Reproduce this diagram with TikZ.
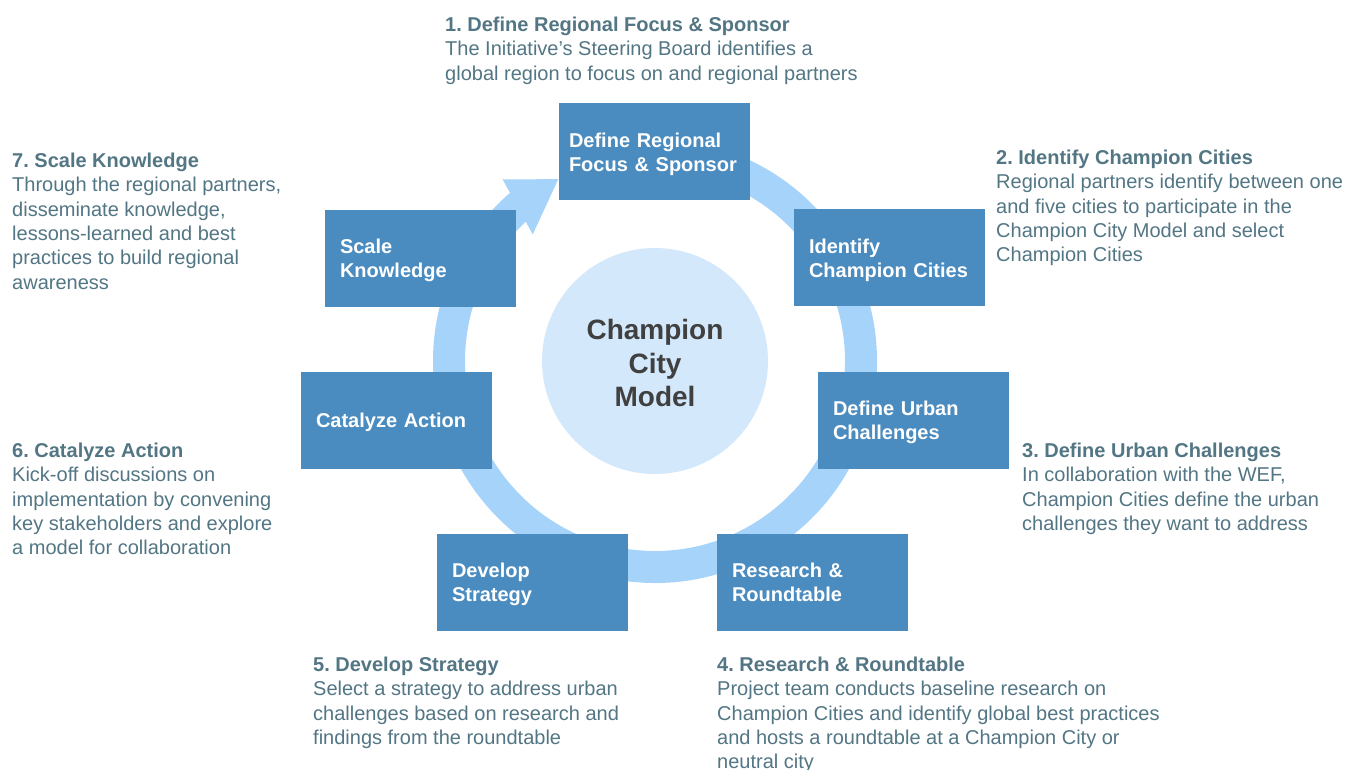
\documentclass[tikz,border=0pt]{standalone}
\usepackage{fontspec}
\setmainfont{Liberation Sans}
\frenchspacing
\definecolor{boxblue}{HTML}{4B8CC0}
\definecolor{ringblue}{HTML}{A6D3FA}
\definecolor{hubfill}{HTML}{D4E8FC}
\definecolor{hubtext}{HTML}{404040}
\definecolor{notetext}{HTML}{537684}
\newcommand\mynohyph{\hyphenpenalty=10000 \exhyphenpenalty=10000 }
\begin{document}
\begin{tikzpicture}[x=1pt,y=-1pt,
  stepbox/.style={rectangle, fill=boxblue, text=white, minimum width=191pt, minimum height=97pt,
    inner xsep=15pt, inner ysep=0pt, text width=161pt, align=left,
    font=\fontsize{20}{23.7}\selectfont\bfseries,
    execute at begin node={\mynohyph\rule{0pt}{20pt}},
    execute at end node={\rule[-4.5pt]{0pt}{4.5pt}}},
  hub/.style={circle, fill=hubfill, minimum size=226pt, inner sep=0pt, align=center,
    text=hubtext, font=\fontsize{28}{33.5}\selectfont\bfseries},
  ring/.style={draw=ringblue, line width=32pt},
  note/.style={anchor=north west, inner sep=0pt, align=left, text=notetext,
    font=\fontsize{20}{24.4}\selectfont}]
\useasboundingbox (0,0) rectangle (1364,769);
\fill[white] (0,0) rectangle (1364,769);
\coordinate (c) at (655,361);
% ring with arrowhead
\draw[ring] ([shift={(130:206pt)}]c) arc[start angle=130, end angle=470, radius=206pt];
\fill[ringblue] ([shift={(118:206pt)}]c) -- ([shift={(130:237pt)}]c) -- ([shift={(134:176pt)}]c) -- cycle;
% hub
\node[hub] (hub) at (c) {\rule{0pt}{24.3pt}Champion\\City\\Model};
% boxes
\node[stepbox, inner xsep=10pt, text width=171pt] (b1) at (654.5,151.5) {Define Regional\\Focus \& Sponsor};
\node[stepbox] (b2) at (889.5,257.5) {Identify\\Champion Cities};
\node[stepbox] (b3) at (913.5,420) {Define Urban\\Challenges};
\node[stepbox] (b4) at (812.5,582) {Research \&\\Roundtable};
\node[stepbox] (b5) at (532.5,582) {Develop\\Strategy};
\node[stepbox] (b6) at (396.5,420) {Catalyze Action};
\node[stepbox] (b7) at (420.5,258) {Scale\\Knowledge};
% notes
\node[note] (n1) at (445,15) {\rule{0pt}{16pt}\textbf{1. Define Regional Focus \& Sponsor}\\The Initiative’s Steering Board identifies a\\global region to focus on and regional partners};
\node[note] (n2) at (996,148) {\rule{0pt}{16pt}\textbf{2. Identify Champion Cities}\\Regional partners identify between one\\and five cities to participate in the\\Champion City Model and select\\Champion Cities};
\node[note] (n3) at (1022,441) {\rule{0pt}{16pt}\textbf{3. Define Urban Challenges}\\In collaboration with the WEF,\\Champion Cities define the urban\\challenges they want to address};
\node[note] (n4) at (717,655) {\rule{0pt}{16pt}\textbf{4. Research \& Roundtable}\\Project team conducts baseline research on\\Champion Cities and identify global best practices\\and hosts a roundtable at a Champion City or\\neutral city};
\node[note] (n5) at (313,655) {\rule{0pt}{16pt}\textbf{5. Develop Strategy}\\Select a strategy to address urban\\challenges based on research and\\findings from the roundtable};
\node[note] (n6) at (12,441) {\rule{0pt}{16pt}\textbf{6. Catalyze Action}\\Kick-off discussions on\\implementation by convening\\key stakeholders and explore\\a model for collaboration};
\node[note] (n7) at (12,151) {\rule{0pt}{16pt}\textbf{7. Scale Knowledge}\\Through the regional partners,\\disseminate knowledge,\\lessons-learned and best\\practices to build regional\\awareness};
\end{tikzpicture}
\end{document}
